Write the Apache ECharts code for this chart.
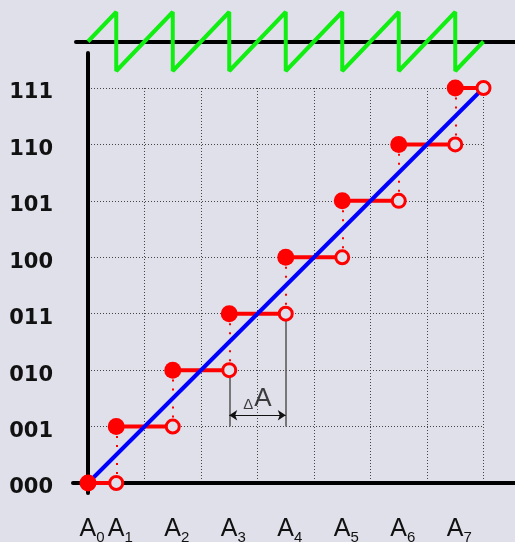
<!DOCTYPE html>
<html><head><meta charset="utf-8">
<script src="https://cdn.jsdelivr.net/npm/echarts@6/dist/echarts.min.js"></script>
<style>html,body{margin:0;padding:0;background:#e0e0ea}#c{width:515px;height:542px}</style>
</head><body><div id="c"></div>
<script>
// Output codes (levels) and their labels
const levels = [0, 1, 2, 3, 4, 5, 6, 7];
const codeLabels = ['000', '001', '010', '011', '100', '101', '110', '111'];
// Analog input where each code begins (filled dot) and ends (open dot), in units of ΔA
const stepStart = [0, 0.5, 1.5, 2.5, 3.5, 4.5, 5.5, 6.5];
const stepEnd = [0.5, 1.5, 2.5, 3.5, 4.5, 5.5, 6.5, 7];
// Input tick labels
const inputTicks = [0, 0.5, 1.5, 2.5, 3.5, 4.5, 5.5, 6.5];
const inputSubs = ['0', '1', '2', '3', '4', '5', '6', '7'];
// Ideal transfer line
const idealX = [0, 7];
const idealY = [0, 7];
// Quantization error (sawtooth), in units of ΔA
const errorX = [0, 0.5, 0.5, 1.5, 1.5, 2.5, 2.5, 3.5, 3.5, 4.5, 4.5, 5.5, 5.5, 6.5, 6.5, 7];
const errorY = [0, 0.5, -0.5, 0.5, -0.5, 0.5, -0.5, 0.5, -0.5, 0.5, -0.5, 0.5, -0.5, 0.5, -0.5, 0];
// ΔA annotation
const deltaFrom = 2.5, deltaTo = 3.5, deltaLevel = 1.2, deltaLeaderBottom = 1;

const BG = '#e0e0ea';
const RED = '#ff0000';
const U = 56.5;

const series = [];
// green error sawtooth (grid 2)
series.push({type: 'line', xAxisIndex: 2, yAxisIndex: 2, showSymbol: false, silent: true,
  data: errorX.map((x, i) => [x, errorY[i]]), lineStyle: {color: '#11ee11', width: 4}, z: 3});
// red dotted transitions
series.push({type: 'lines', coordinateSystem: 'cartesian2d', xAxisIndex: 0, yAxisIndex: 0, silent: true,
  data: levels.slice(0, 7).map(k => ({coords: [[stepEnd[k], levels[k]], [stepEnd[k], levels[k + 1]]]})),
  lineStyle: {color: RED, width: 2, type: [2, 7], opacity: 1}, z: 2});
// gray leaders for ΔA
series.push({type: 'lines', coordinateSystem: 'cartesian2d', xAxisIndex: 0, yAxisIndex: 0, silent: true,
  data: [
    {coords: [[deltaFrom, 2], [deltaFrom, deltaLeaderBottom]]},
    {coords: [[deltaTo, 3], [deltaTo, deltaLeaderBottom]]}
  ],
  lineStyle: {color: '#555', width: 1.5, opacity: 1}, z: 2});
// arrow
series.push({type: 'lines', coordinateSystem: 'cartesian2d', xAxisIndex: 0, yAxisIndex: 0, silent: true,
  symbol: ['arrow', 'arrow'], symbolSize: 8,
  data: [{coords: [[deltaFrom, deltaLevel], [deltaTo, deltaLevel]]}],
  lineStyle: {color: '#111', width: 1.2, opacity: 1}, z: 2});
// ΔA label
series.push({type: 'scatter', xAxisIndex: 0, yAxisIndex: 0, silent: true, symbolSize: 0,
  data: [[(deltaFrom + deltaTo) / 2, deltaLevel]],
  label: {show: true, position: 'top', distance: 3, formatter: '{d|Δ}{a|A}',
    rich: {d: {fontSize: 15, fontFamily: 'Liberation Sans', color: '#111', verticalAlign: 'bottom', padding: [0, 1, 0, 0]},
           a: {fontSize: 26, fontFamily: 'Liberation Sans', color: '#111', verticalAlign: 'bottom'}}}, z: 4});
// red segments
levels.forEach(k => {
  series.push({type: 'line', xAxisIndex: 0, yAxisIndex: 0, showSymbol: false, silent: true,
    data: [[stepStart[k], levels[k]], [stepEnd[k], levels[k]]],
    lineStyle: {color: RED, width: 4}, z: 3});
});
// blue ideal line
series.push({type: 'line', xAxisIndex: 0, yAxisIndex: 0, showSymbol: false, silent: true,
  data: idealX.map((x, i) => [x, idealY[i]]), lineStyle: {color: '#0000ff', width: 4}, z: 4});
// filled dots
series.push({type: 'scatter', xAxisIndex: 0, yAxisIndex: 0, silent: true, symbolSize: 17,
  data: levels.map(k => [stepStart[k], levels[k]]), itemStyle: {color: RED, opacity: 1}, z: 5});
// open dots
series.push({type: 'scatter', xAxisIndex: 0, yAxisIndex: 0, silent: true, symbolSize: 13,
  data: levels.map(k => [stepEnd[k], levels[k]]),
  itemStyle: {color: BG, borderColor: RED, borderWidth: 3, opacity: 1}, z: 5});

const hidden = {axisLabel: {show: false}, axisTick: {show: false}, splitLine: {show: false}};
const dotted = {show: true, lineStyle: {color: '#444', width: 1, type: [1, 2]}};

const option = {
  backgroundColor: BG,
  animation: false,
  grid: [
    {left: 88, top: 88, width: 7 * U, height: 395, outerBoundsMode: 'none', containLabel: false},
    {left: 73, right: 0, top: 53, bottom: 49, outerBoundsMode: 'none', containLabel: false},
    {left: 76, right: 0, top: 12, height: 59, outerBoundsMode: 'none', containLabel: false}
  ],
  xAxis: [
    {type: 'value', gridIndex: 0, min: 0, max: 7, interval: 1,
      axisLine: {show: false}, axisTick: {show: false}, splitLine: dotted,
      axisLabel: {show: true, customValues: inputTicks, margin: 34, padding: [0, 0, 0, 8],
        formatter: v => { const i = inputTicks.indexOf(v); return i < 0 ? '' : '{a|A}{s|' + inputSubs[i] + '}'; },
        rich: {a: {fontSize: 25, fontFamily: 'Liberation Sans', color: '#111', verticalAlign: 'bottom'},
               s: {fontSize: 15, fontFamily: 'Liberation Sans', color: '#111', verticalAlign: 'bottom', padding: [0, 0, -3, 0]}}}},
    Object.assign({type: 'value', gridIndex: 1, min: -15 / U, max: 427 / U,
      axisLine: {show: true, onZero: true, lineStyle: {color: '#000', width: 4}}}, hidden),
    Object.assign({type: 'value', gridIndex: 2, min: -12 / U, max: 427 / U,
      axisLine: {show: true, onZero: true, lineStyle: {color: '#000', width: 4}}}, hidden)
  ],
  yAxis: [
    {type: 'value', gridIndex: 0, min: 0, max: 7, interval: 1,
      axisLine: {show: false}, axisTick: {show: false}, splitLine: dotted,
      axisLabel: {show: true, margin: 35, fontSize: 21, fontWeight: 'bold', fontFamily: 'DejaVu Sans', color: '#111',
        verticalAlign: 'top', lineHeight: 10,
        formatter: v => codeLabels[levels.indexOf(v)] || ''}},
    Object.assign({type: 'value', gridIndex: 1, min: -10 / U, max: 430 / U,
      axisLine: {show: true, onZero: true, lineStyle: {color: '#000', width: 4}}}, hidden),
    Object.assign({type: 'value', gridIndex: 2, min: -0.5, max: 0.5,
      axisLine: {show: false}}, hidden)
  ],
  series: series
};
const chart = echarts.init(document.getElementById('c'));
chart.setOption(option);
</script></body></html>
